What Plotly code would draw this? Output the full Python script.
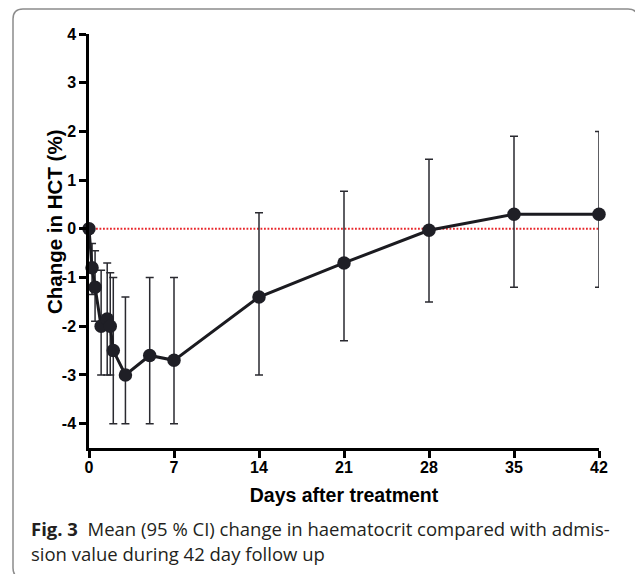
import plotly.graph_objects as go

# ---- data ----
days = [0, 0.25, 0.5, 1, 1.5, 1.75, 2, 3, 5, 7, 14, 21, 28, 35, 42]
mean_change = [0, -0.8, -1.2, -2.0, -1.85, -2.0, -2.5, -3.0, -2.6, -2.7, -1.4, -0.7, -0.03, 0.3, 0.3]
ci_upper = [0, -0.3, -0.45, -0.85, -0.7, -0.9, -1.0, -1.4, -1.0, -1.0, 0.33, 0.77, 1.43, 1.9, 2.0]
ci_lower = [0, -1.35, -1.9, -3.0, -3.0, -3.0, -4.0, -4.0, -4.0, -4.0, -3.0, -2.3, -1.5, -1.2, -1.2]

ref_x = [0, 42]
ref_y = [0, 0]

x_ticks = [0, 7, 14, 21, 28, 35, 42]
y_ticks = [-4, -3, -2, -1, 0, 1, 2, 3, 4]
y_ticktext = ["-4", "-3", "-2", "-1", "0", "1", "2", "3", "4"]

x_title = "Days after treatment"
y_title = "Change in HCT (%)"
caption_1 = "<b>Fig. 3</b>&nbsp; Mean (95 % CI) change in haematocrit compared with admis-"
caption_2 = "sion value during 42 day follow up"

# ---- layout geometry (pixels) ----
W, H = 635, 574
ML, MR, MT, MB = 89, 36, 34, 126
PW, PH = W - ML - MR, H - MT - MB


def px_x(px):
    return (px - ML) / PW


def px_y(py):
    return (H - MB - py) / PH


err_plus = [u - m for u, m in zip(ci_upper, mean_change)]
err_minus = [m - l for m, l in zip(mean_change, ci_lower)]

fig = go.Figure()

fig.add_trace(go.Scatter(
    x=ref_x, y=ref_y, mode="lines",
    line=dict(color="#e8262a", width=2, dash="1.8px,1.7px"),
    hoverinfo="skip", showlegend=False, cliponaxis=False,
))

fig.add_trace(go.Scatter(
    x=days, y=mean_change, mode="lines+markers",
    line=dict(color="#1b1b20", width=3),
    marker=dict(color="#1f1f26", size=13.5),
    error_y=dict(type="data", symmetric=False, array=err_plus, arrayminus=err_minus,
                 color="#2a2a30", thickness=1.5, width=4),
    showlegend=False, cliponaxis=False,
))

axis_font = dict(family="Liberation Sans, Arial, sans-serif", size=16, color="black", weight="bold")

fig.update_xaxes(
    range=[0, 42], tickvals=x_ticks, showline=True, linewidth=2.5, linecolor="black",
    ticks="outside", ticklen=7, tickwidth=2.5, tickcolor="black", ticklabelstandoff=-4,
    showgrid=False, zeroline=False, tickfont=axis_font,
    title=dict(text=x_title, font=dict(family="Liberation Sans, Arial, sans-serif", size=19.5,
                                        color="black", weight="bold"), standoff=14),
)
fig.update_yaxes(
    range=[-4.5, 4], tickvals=y_ticks, ticktext=y_ticktext, showline=True, linewidth=2.5,
    linecolor="black", ticks="outside", ticklen=7, tickwidth=2.5, tickcolor="black",
    showgrid=False, zeroline=False, tickfont=axis_font,
)

annotations = [
    dict(text=y_title, xref="paper", yref="paper", x=px_x(54), y=px_y(222),
         xanchor="center", yanchor="middle", textangle=-90, showarrow=False,
         font=dict(family="Liberation Sans, Arial, sans-serif", size=20.5, color="black", weight="bold")),
    dict(text=caption_1, xref="paper", yref="paper", x=px_x(29), y=px_y(528),
         xanchor="left", yanchor="middle", showarrow=False,
         font=dict(family="Open Sans, sans-serif", size=18.5, color="#231f20")),
    dict(text=caption_2, xref="paper", yref="paper", x=px_x(29), y=px_y(553),
         xanchor="left", yanchor="middle", showarrow=False,
         font=dict(family="Open Sans, sans-serif", size=18.5, color="#231f20")),
]

# rounded border box (partially outside the canvas on right and bottom)
L, T, R, B, r = 13, 9, 638, 578, 10
path = (
    f"M {px_x(L)},{px_y(T + r)} "
    f"Q {px_x(L)},{px_y(T)} {px_x(L + r)},{px_y(T)} "
    f"L {px_x(R - r)},{px_y(T)} "
    f"Q {px_x(R)},{px_y(T)} {px_x(R)},{px_y(T + r)} "
    f"L {px_x(R)},{px_y(B - r)} "
    f"Q {px_x(R)},{px_y(B)} {px_x(R - r)},{px_y(B)} "
    f"L {px_x(L + r)},{px_y(B)} "
    f"Q {px_x(L)},{px_y(B)} {px_x(L)},{px_y(B - r)} Z"
)
shapes = [dict(type="path", xref="paper", yref="paper", path=path,
               line=dict(color="#8c8c8c", width=1.5), layer="below")]

fig.update_layout(
    width=W, height=H, margin=dict(l=ML, r=MR, t=MT, b=MB, autoexpand=False),
    paper_bgcolor="white", plot_bgcolor="white",
    annotations=annotations, shapes=shapes, showlegend=False,
)

fig.write_html(
    "out.html",
    config={"displayModeBar": False},
    post_script="document.body.style.margin='0';document.body.style.overflow='hidden';",
)
